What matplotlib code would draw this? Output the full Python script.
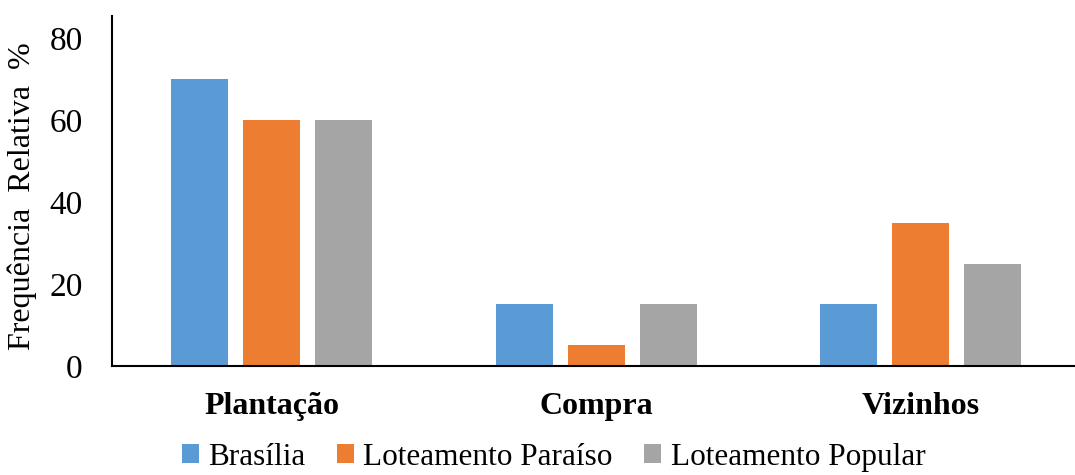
import matplotlib
matplotlib.use("Agg")
import matplotlib.pyplot as plt
from matplotlib.patches import Patch
import numpy as np

categories = ["Plantação", "Compra", "Vizinhos"]
series_names = ["Brasília", "Loteamento Paraíso", "Loteamento Popular"]
brasilia = [70, 15, 15]
paraiso = [60, 5, 35]
popular = [60, 15, 25]
colors = ["#5B9BD5", "#ED7D31", "#A5A5A5"]
y_ticks = [0, 20, 40, 60, 80]

plt.rcParams["font.family"] = ["Liberation Serif", "DejaVu Serif"]

fig = plt.figure(figsize=(10.75, 4.75), dpi=100)
ax = fig.add_axes([0.104, 0.2295, 0.896, 0.737])

x = np.arange(len(categories))
width = 0.176
step = 0.222
for i, (vals, c) in enumerate(zip([brasilia, paraiso, popular], colors)):
    ax.bar(x + (i - 1) * step, vals, width=width, color=c, zorder=2)

ax.set_xlim(-0.493, 2.475)
ax.set_ylim(0, 85.4)
ax.set_yticks(y_ticks)
ax.set_yticklabels([str(v) for v in y_ticks], fontsize=24)
ax.set_xticks(x)
ax.set_xticklabels(categories, fontsize=23, fontweight="bold")
ax.tick_params(axis="both", length=0)
ax.tick_params(axis="y", pad=21)
ax.tick_params(axis="x", pad=19)

for s in ["top", "right"]:
    ax.spines[s].set_visible(False)
ax.spines["left"].set_linewidth(1.5)
ax.spines["bottom"].set_linewidth(1.5)

fig.text(22 / 1075, 1 - 196 / 475, "Frequência  Relativa  %", rotation=90,
         ha="center", va="center", fontsize=23)

handles = [Patch(facecolor=c, edgecolor="none") for c in colors]
fig.legend(handles, series_names, loc="lower center", bbox_to_anchor=(0.515, -0.052),
           ncol=3, frameon=False, fontsize=22.5, handlelength=0.55, handleheight=0.55,
           handletextpad=0.3, columnspacing=1.0)

fig.savefig("out.png", dpi=100)
